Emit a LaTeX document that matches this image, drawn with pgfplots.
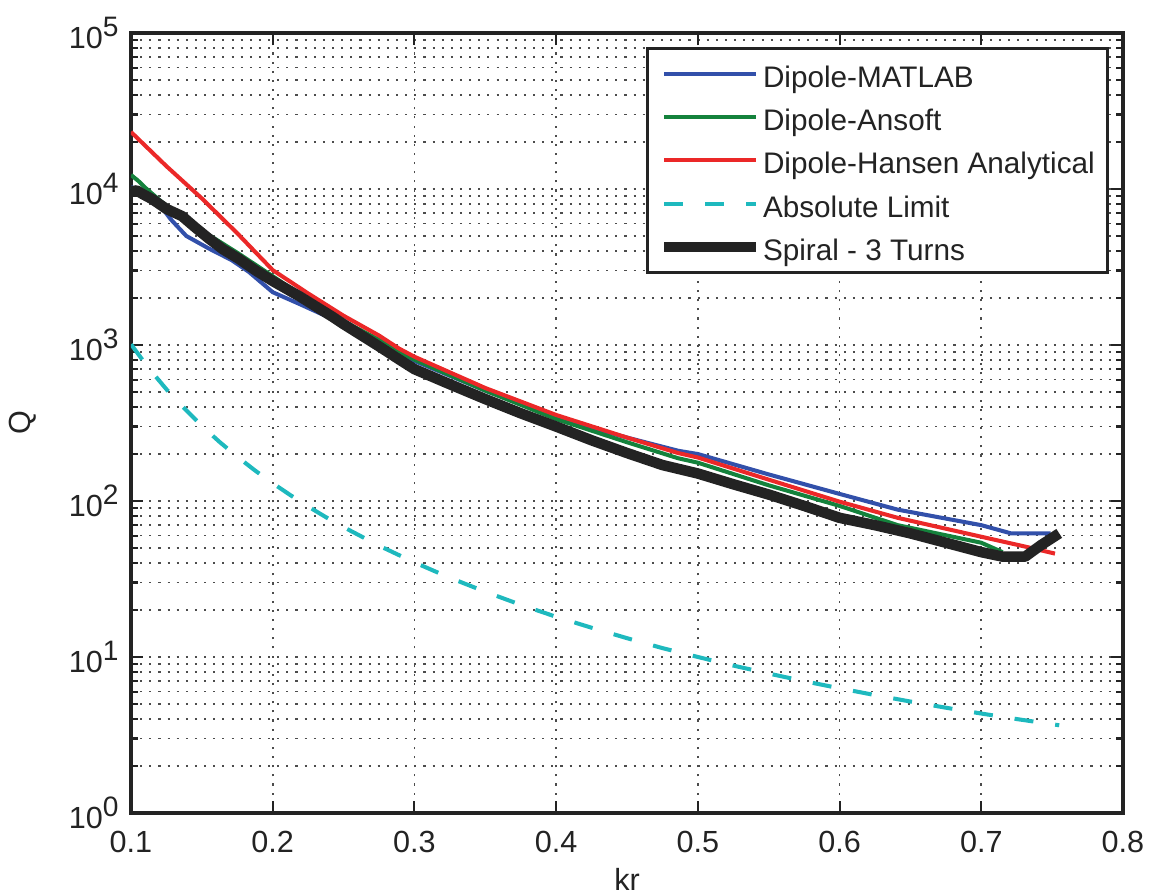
\documentclass[border=0pt]{standalone}
\usepackage{fontspec}
\setmainfont{Liberation Sans}
\usepackage{pgfplots}
\pgfplotsset{compat=1.18}
\definecolor{mblue}{RGB}{50,80,170}
\definecolor{mgreen}{RGB}{20,130,60}
\definecolor{mred}{RGB}{235,40,40}
\definecolor{mcyan}{RGB}{30,185,190}
\definecolor{mblack}{RGB}{35,35,35}
\newcommand\tpow[1]{10\raisebox{3.6pt}{\fontsize{8}{9.6}\selectfont#1}}
\begin{document}
\begin{tikzpicture}
\begin{axis}[
  scale only axis, width=99.2mm, height=78mm,
  ymode=log, log basis y=10,
  xmin=0.1, xmax=0.8, ymin=1, ymax=1e5,
  xtick={0.1,0.2,0.3,0.4,0.5,0.6,0.7,0.8},
  xticklabels={0.1,0.2,0.3,0.4,0.5,0.6,0.7,0.8},
  ytick={1,10,100,1000,10000,100000},
  minor ytick={2,3,4,5,6,7,8,9,20,30,40,50,60,70,80,90,200,300,400,500,600,700,800,900,2000,3000,4000,5000,6000,7000,8000,9000,20000,30000,40000,50000,60000,70000,80000,90000},
  yticklabels={\tpow{0},\tpow{1},\tpow{2},\tpow{3},\tpow{4},\tpow{5}},
  /pgf/number format/assume math mode=true,
  font=\fontsize{8.7}{10.4}\selectfont,
  tick label style={font=\fontsize{8.7}{10.4}\selectfont, text=mblack},
  xticklabel style={yshift=-0.6mm},
  axis line style={line width=1.4pt, mblack},
  tick style={mblack, line width=0.6pt},
  major tick length=1.2mm, minor tick length=0.7mm,
  tick align=inside,
  minor x tick num=0,
  xmajorgrids, ymajorgrids, yminorgrids,
  grid style={black!70, line width=0.5pt, dash pattern=on 0.6pt off 2pt},
  xlabel={kr}, ylabel={Q},
  xlabel style={at={(axis description cs:0.5,0)}, anchor=center, yshift=-6.6mm, text=mblack},
  ylabel style={at={(axis description cs:0,0.5)}, anchor=center, yshift=10.8mm, text=mblack},
  legend style={at={(1,1)}, anchor=north east, xshift=-1.4mm, yshift=-1.4mm,
    draw=mblack, line width=0.8pt, fill=white,
    inner xsep=1.1mm, inner ysep=1.05mm, row sep=3.7pt,
    font=\fontsize{8.45}{10.1}\selectfont,
    nodes={inner sep=0.5pt, text height=7.6pt, text depth=0pt, text=mblack}},
  legend cell align=left,
  legend image code/.code={\draw[#1] (0mm,0mm) -- (9.2mm,0mm);},
  every axis plot/.append style={line join=round},
]
\addplot[mblue, line width=1.15pt] coordinates {
(0.100,10300) (0.110,9400) (0.120,8000) (0.128,6400) (0.139,5000) (0.155,4150)
(0.171,3500) (0.183,2950) (0.200,2180) (0.219,1830) (0.242,1470) (0.250,1370)
(0.275,1020) (0.300,790) (0.350,510) (0.400,340) (0.450,255) (0.486,210)
(0.500,200) (0.550,148) (0.600,111) (0.641,88) (0.700,70) (0.721,62) (0.749,62)};
\addlegendentry{Dipole-MATLAB}
\addplot[mgreen, line width=1.15pt] coordinates {
(0.100,12300) (0.105,11300) (0.110,10200) (0.120,8500) (0.130,7200) (0.148,5560)
(0.175,3900) (0.200,2760) (0.225,1950) (0.250,1420) (0.275,1080) (0.289,905)
(0.300,805) (0.350,510) (0.400,335) (0.450,238) (0.486,188) (0.500,176)
(0.550,126) (0.600,93) (0.641,70) (0.700,54) (0.715,47)};
\addlegendentry{Dipole-Ansoft}
\addplot[mred, line width=1.15pt] coordinates {
(0.100,23200) (0.125,14000) (0.150,8700) (0.175,5200) (0.200,3020) (0.225,2140)
(0.250,1540) (0.275,1150) (0.289,950) (0.300,841) (0.350,530) (0.400,356)
(0.450,255) (0.486,203) (0.500,190) (0.550,137) (0.600,99) (0.641,78)
(0.700,59) (0.731,51) (0.752,46)};
\addlegendentry{Dipole-Hansen Analytical}
\addplot[mcyan, line width=1.15pt, dash pattern=on 1.9mm off 2.2mm] coordinates {
(0.100,1010) (0.1125,710) (0.125,520) (0.1375,394) (0.150,303) (0.1625,239) (0.175,192.3)
(0.1875,156.9) (0.200,130) (0.2125,109) (0.225,92.2) (0.2375,78.8) (0.250,68)
(0.275,51.7) (0.300,40.4) (0.325,32.2) (0.350,26.2) (0.375,21.6) (0.400,18.1)
(0.425,15.4) (0.450,13.2) (0.475,11.4) (0.500,10.0) (0.525,8.81) (0.550,7.83)
(0.575,7.00) (0.600,6.30) (0.625,5.70) (0.650,5.18) (0.675,4.73) (0.700,4.34)
(0.725,4.00) (0.755,3.65)};
\addlegendentry{Absolute Limit}
\addplot[mblack, line width=3pt] coordinates {
(0.100,9600) (0.104,9800) (0.108,9300) (0.115,8600) (0.125,7450) (0.136,6700)
(0.145,5700) (0.155,4800) (0.165,4100) (0.176,3570) (0.188,3000) (0.200,2570)
(0.219,2050) (0.242,1520) (0.250,1360) (0.275,980) (0.289,810) (0.300,700)
(0.325,560) (0.350,450) (0.375,365) (0.400,300) (0.425,245) (0.450,203)
(0.475,170) (0.500,150) (0.525,128) (0.550,110) (0.575,93) (0.600,78)
(0.625,70) (0.650,62) (0.675,54) (0.700,47) (0.715,44) (0.731,44)
(0.742,52) (0.755,62)};
\addlegendentry{Spiral - 3 Turns}
\end{axis}
\pgfresetboundingbox
\path[use as bounding box] ([shift={(-13.1mm,-8.3mm)}]current axis.south west) rectangle ([shift={(2.8mm,3.3mm)}]current axis.north east);
\end{tikzpicture}
\end{document}
